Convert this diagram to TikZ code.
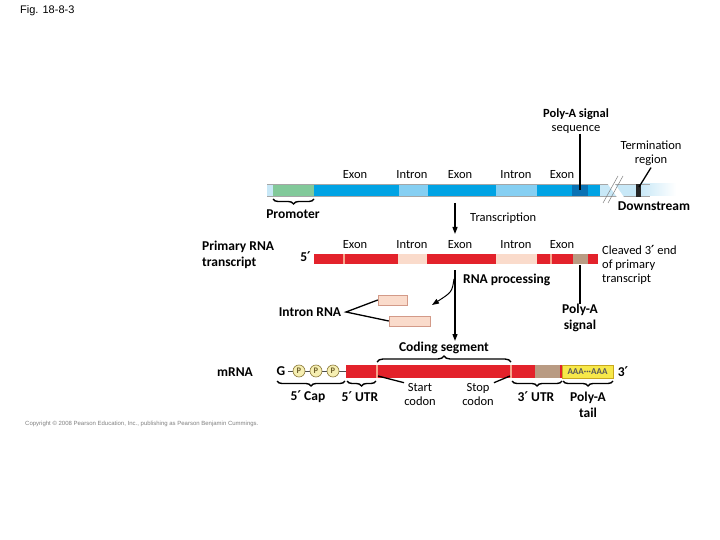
\documentclass[tikz,border=0pt]{standalone}
\usepackage{fontspec}
\setmainfont{Carlito}
\newfontfamily\arialf{Liberation Sans}
\newfontfamily\dejavuf{DejaVu Sans}
\newcommand\primemark{{\dejavuf\bfseries\char"2032}}
\usetikzlibrary{decorations.pathreplacing,arrows.meta}
\definecolor{dnaexon}{HTML}{00A3E4}
\definecolor{dnaintron}{HTML}{86CFF2}
\definecolor{dnalight}{HTML}{C8E8F7}
\definecolor{dnadark}{HTML}{0A72B4}
\definecolor{promgreen}{HTML}{82C99A}
\definecolor{rnared}{HTML}{E3222B}
\definecolor{rnapink}{HTML}{FADBCB}
\definecolor{rnastripe}{HTML}{F7A58C}
\definecolor{rnatan}{HTML}{B99B83}
\definecolor{polyy}{HTML}{F7E84A}
\definecolor{polyyb}{HTML}{C9A81E}
\definecolor{capfill}{HTML}{F6EFB2}
\definecolor{capline}{HTML}{8C7A3A}
\begin{document}
\begin{tikzpicture}[x=1pt,y=-1pt,
  lbl/.style={font=\fontsize{12.5}{14}\selectfont, inner sep=0pt, align=center},
  blbl/.style={font=\fontsize{13.5}{15.5}\selectfont\bfseries, inner sep=0pt, align=center},
  pointer/.style={line width=1.3pt, black},
  flow/.style={line width=1.2pt, black, -{Triangle[length=7pt,width=5pt]}},
  bracedown/.style={line width=1.4pt, decorate, decoration={brace, mirror, amplitude=5pt}},
  braceup/.style={line width=1.4pt, decorate, decoration={brace, amplitude=6pt}},
  intronbox/.style={draw=rnastripe!70!gray, line width=0.5pt, fill=rnapink, minimum width=#1, minimum height=10pt, inner sep=0pt},
  capcirc/.style={circle, draw=capline, fill=capfill, line width=0.6pt, minimum size=12pt, inner sep=0pt, font=\fontsize{8.5}{8.5}\selectfont\bfseries, text=capline!80!black}
]
\useasboundingbox (0,0) rectangle (720,540);
\fill[white] (0,0) rectangle (720,540);

\node[anchor=west, inner sep=0pt, font=\arialf\fontsize{11}{12}\selectfont] (fig) at (20,11) {Fig. 18-8-3};

% ---------------- DNA ----------------
\fill[dnalight] (267,184) rectangle (640,196);
\shade[left color=dnalight, right color=white] (640,184) rectangle (676,196);
\fill[promgreen] (273,184) rectangle (314,196);
\fill[dnaexon] (314,184) rectangle (399,196);
\fill[dnaintron] (399,184) rectangle (428,196);
\fill[dnaexon] (428,184) rectangle (496,196);
\fill[dnaintron] (496,184) rectangle (537,196);
\fill[dnaexon] (537,184) rectangle (572,196);
\fill[dnadark] (572,184) rectangle (588,196);
\fill[dnaexon] (588,184) rectangle (600,196);
\draw[gray!70, line width=0.4pt] (267,184) -- (650,184) (267,196) -- (650,196);
\fill[white] (605,180) -- (612,180) -- (626,200) -- (619,200) -- cycle;
\draw[gray, line width=0.5pt] (603,203) -- (618,176) (608,203) -- (623,176);
\fill[black!85] (636,184) rectangle (641,197);

\node[lbl] (ex1) at (355,175) {Exon};
\node[lbl] (in1) at (412,175) {Intron};
\node[lbl] (ex2) at (460,175) {Exon};
\node[lbl] (in2) at (516,175) {Intron};
\node[lbl] (ex3) at (562,175) {Exon};

\node[lbl] (pas) at (576,121) {\textbf{Poly-A signal}\\sequence};
\coordinate (pasend) at (580,190);
\draw[pointer] (pas.south -| pasend) -- (pasend);

\node[lbl] (term) at (651,153) {Termination\\region};
\coordinate (termend) at (639,187);
\draw[pointer] (term.south) ++(0,2) -- (termend);

\node[blbl] (down) at (654,206) {Downstream};

\draw[bracedown] (273,199) -- (314,199);
\node[blbl] (prom) at (293,214) {Promoter};

\coordinate (tr1) at (455,203);
\coordinate (tr2) at (455,234);
\draw[flow] (tr1) -- (tr2);
\node[lbl, anchor=west] (trans) at (470,218) {Transcription};

% ---------------- Primary transcript ----------------
\fill[rnared] (314,254) rectangle (598,264);
\fill[rnastripe] (343,254) rectangle (345,264);
\fill[rnapink] (398,254) rectangle (427,264);
\fill[rnapink] (496,254) rectangle (537,264);
\fill[rnastripe] (550,254) rectangle (552,264);
\fill[rnatan] (573,254) rectangle (588,264);

\node[lbl] (pex1) at (355,245) {Exon};
\node[lbl] (pin1) at (412,245) {Intron};
\node[lbl] (pex2) at (460,245) {Exon};
\node[lbl] (pin2) at (516,245) {Intron};
\node[lbl] (pex3) at (562,245) {Exon};

\node[blbl, anchor=east] (five1) at (311,257) {5\primemark};
\node[blbl, anchor=west, align=left] (prim) at (202,255) {Primary RNA\\transcript};
\node[lbl, anchor=west, align=left] (cleave) at (602,265) {Cleaved 3\primemark\ end\\of primary\\transcript};

\coordinate (pr1) at (455,270);
\coordinate (pr2) at (455,341);
\draw[flow] (pr1) -- (pr2);
\node[blbl, anchor=west] (proc) at (463,280) {RNA processing};
\coordinate (cv1) at (454,279);
\coordinate (cv2) at (432,305);
\draw[flow, line width=1pt] (cv1) .. controls (452,292) .. (cv2);

\node[intronbox=29pt] (ib1) at (392.5,300) {};
\node[intronbox=41pt] (ib2) at (409.5,321) {};
\node[blbl] (irna) at (310,312) {Intron RNA};
\coordinate (ir0) at (346,312);
\draw[pointer] (ib1.west) -- (ir0) -- (ib2.west);

\coordinate (pa1) at (580,265);
\node[blbl] (pasig) at (580,318) {Poly-A\\signal};
\draw[pointer] (pa1) -- (pasig.north);

% ---------------- mRNA ----------------
\fill[rnared] (346,365) rectangle (562,378);
\fill[rnastripe] (376,365) rectangle (378,378);
\fill[rnastripe] (510,365) rectangle (512,378);
\fill[rnatan] (535,365) rectangle (560,378);
\node[draw=polyyb, fill=polyy, line width=0.8pt, minimum width=51pt, minimum height=13pt, inner sep=0pt,
      font=\fontsize{9}{9}\selectfont\bfseries, text=black!65] (tail) at (587.5,371.5) {AAA···AAA};
\node[blbl] (three) at (623,372) {3\primemark};
\node[blbl] (mrna) at (235,372) {mRNA};

\node[blbl] (g) at (281,371) {G};
\coordinate (capend) at (346,371);
\draw[black!70, line width=0.6pt] (g.east) ++(2,0) -- (capend);
\node[capcirc] (p1) at (299,371) {P};
\node[capcirc] (p2) at (316,371) {P};
\node[capcirc] (p3) at (333,371) {P};

\draw[braceup] (377,362) -- (511,362);
\node[blbl] (coding) at (444,348) {Coding segment};

\draw[bracedown] (277,381) -- (345,381);
\draw[bracedown] (347,381) -- (376,381);
\draw[bracedown] (512,381) -- (562,381);
\draw[bracedown] (563,381) -- (613,381);
\node[blbl] (cap5) at (308,397) {5\primemark\ Cap};
\node[blbl] (utr5) at (360,397) {5\primemark\ UTR};
\node[blbl] (utr3) at (536,397) {3\primemark\ UTR};
\node[blbl] (ptail) at (588,405) {Poly-A\\tail};

\node[lbl] (start) at (420,394) {Start\\codon};
\node[lbl] (stop) at (478,394) {Stop\\codon};
\coordinate (sc) at (378,376);
\coordinate (ec) at (510,376);
\draw[pointer] (sc) -- (start.north west);
\draw[pointer] (ec) -- (stop.north east);

\node[anchor=west, inner sep=0pt, text=gray, font=\arialf\fontsize{6}{7}\selectfont] (copy) at (25,424)
  {Copyright © 2008 Pearson Education, Inc., publishing as Pearson Benjamin Cummings.};
\end{tikzpicture}
\end{document}
